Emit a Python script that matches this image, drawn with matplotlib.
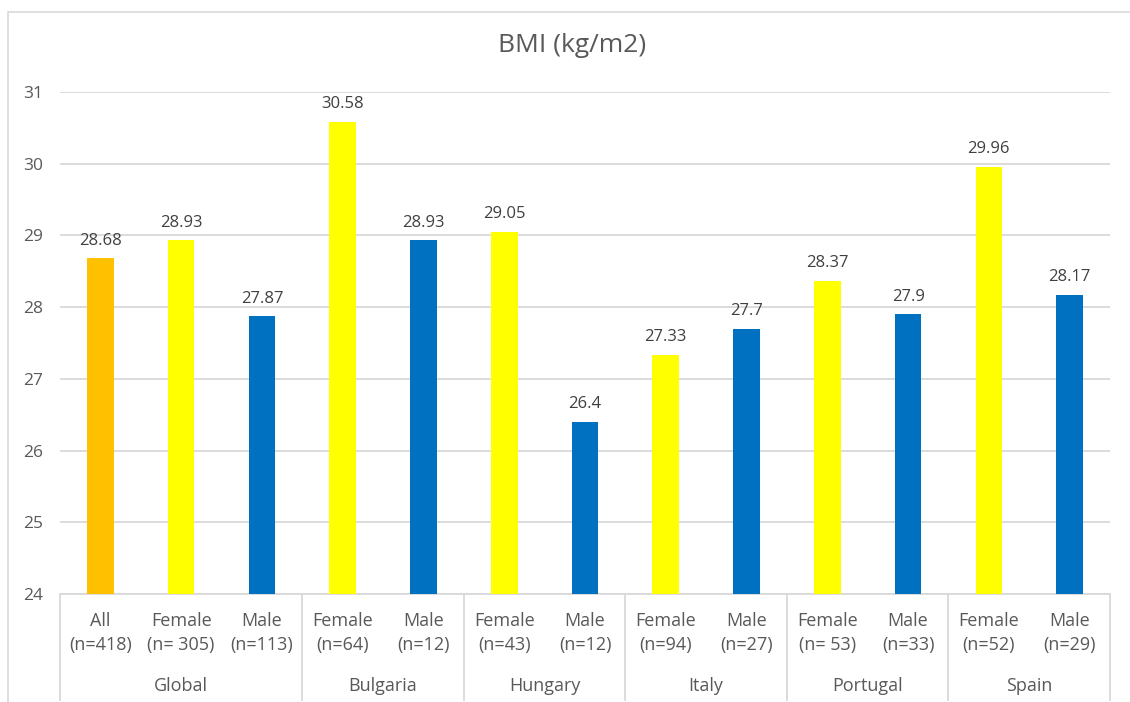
import matplotlib.pyplot as plt
from matplotlib.transforms import blended_transform_factory
from matplotlib.patches import Rectangle
from matplotlib.lines import Line2D

plt.rcParams['font.family'] = ['Open Sans', 'DejaVu Sans']

# Data
sub_labels = ["All", "Female", "Male", "Female", "Male", "Female", "Male",
              "Female", "Male", "Female", "Male", "Female", "Male"]
n_labels = ["(n=418)", "(n= 305)", "(n=113)", "(n=64)", "(n=12)", "(n=43)", "(n=12)",
            "(n=94)", "(n=27)", "(n= 53)", "(n=33)", "(n=52)", "(n=29)"]
groups = ["Global", "Bulgaria", "Hungary", "Italy", "Portugal", "Spain"]
group_sizes = [3, 2, 2, 2, 2, 2]
bmi = [28.68, 28.93, 27.87, 30.58, 28.93, 29.05, 26.4,
       27.33, 27.7, 28.37, 27.9, 29.96, 28.17]
value_labels = ["28.68", "28.93", "27.87", "30.58", "28.93", "29.05", "26.4",
                "27.33", "27.7", "28.37", "27.9", "29.96", "28.17"]

ORANGE = "#FFC000"
YELLOW = "#FFFF00"
BLUE = "#0070C0"
TEXT = "#595959"
GRID = "#D9D9D9"

colors = []
for s in sub_labels:
    colors.append(ORANGE if s == "All" else (YELLOW if s == "Female" else BLUE))

W, H = 1130, 702
fig = plt.figure(figsize=(W / 100, H / 100), dpi=100)

# chart frame
fig.patches.append(Rectangle((8 / W, -0.01), 1.2, (H - 12) / H + 0.01,
                             transform=fig.transFigure, fill=False,
                             edgecolor="#D9D9D9", linewidth=1.2))

left, right, top, bottom = 60, 1110, 92, 594
ax = fig.add_axes([left / W, 1 - bottom / H, (right - left) / W, (bottom - top) / H])

x = list(range(len(bmi)))
ax.bar(x, [v - 24 for v in bmi], bottom=24, width=0.33, color=colors, zorder=3)
ax.set_xlim(-0.5, len(bmi) - 0.5)
ax.set_ylim(24, 31)
ax.set_yticks(range(24, 32))
ax.tick_params(axis="y", length=0, pad=12, labelsize=12.5, labelcolor=TEXT)
ax.set_xticks([])
ax.grid(axis="y", color=GRID, linewidth=1.3, zorder=0)
for sp in ["top", "right", "left"]:
    ax.spines[sp].set_visible(False)
ax.spines["bottom"].set_color(GRID)
ax.spines["bottom"].set_linewidth(1.3)

for xi, v, lab in zip(x, bmi, value_labels):
    ax.annotate(lab, (xi, v), xytext=(0, 7), textcoords="offset points",
                ha="center", va="bottom", fontsize=12, color="#404040")

trans = blended_transform_factory(ax.transData, ax.transAxes)
ah = bottom - top
for xi, s, n in zip(x, sub_labels, n_labels):
    ax.text(xi, -(621 - bottom) / ah, s, transform=trans, ha="center", va="center",
            fontsize=13, color=TEXT)
    ax.text(xi, -(645 - bottom) / ah, n, transform=trans, ha="center", va="center",
            fontsize=13, color=TEXT)

start = -0.5
edges = [start]
for g, sz in zip(groups, group_sizes):
    mid = start + sz / 2
    ax.text(mid, -(686 - bottom) / ah, g, transform=trans, ha="center", va="center",
            fontsize=13, color=TEXT)
    start += sz
    edges.append(start)
for e in edges:
    ax.add_line(Line2D([e, e], [0, -(700 - bottom) / ah], transform=trans,
                       color=GRID, linewidth=1.3, clip_on=False))

fig.text(572 / W, 1 - 46 / H, "BMI (kg/m2)", ha="center", va="center",
         fontsize=19, color=TEXT)

fig.savefig("out.png", dpi=100)
